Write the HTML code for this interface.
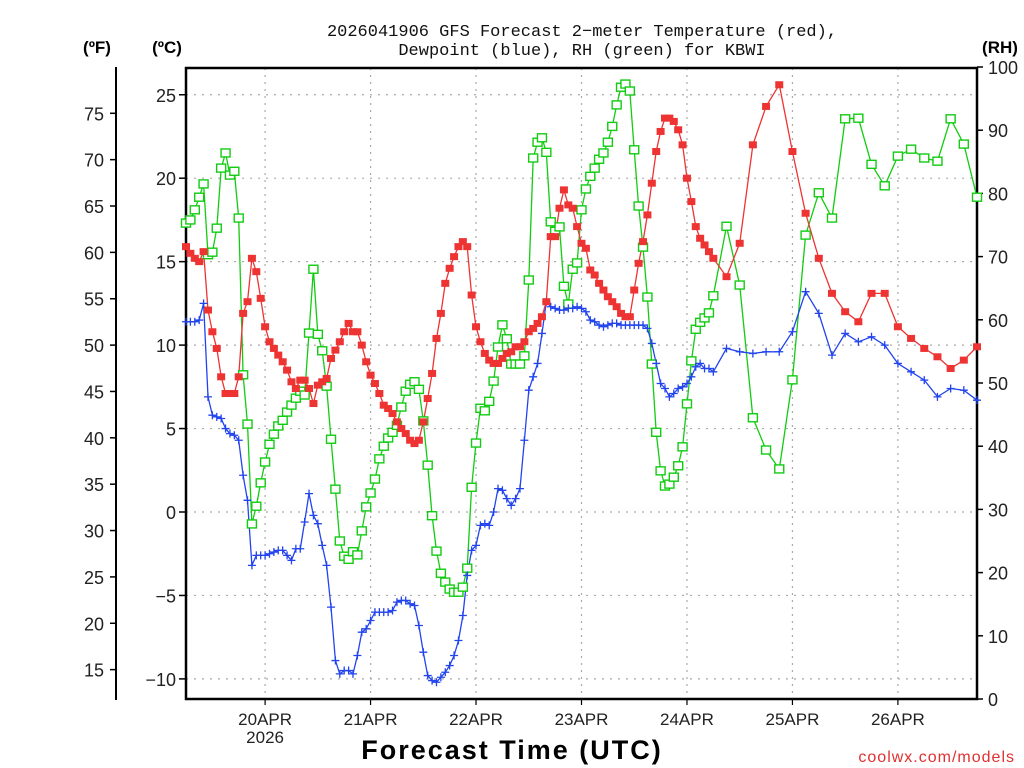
<!DOCTYPE html>
<html><head><meta charset="utf-8"><style>
body{margin:0;background:#fff;}
svg{display:block;font-family:"Liberation Sans",sans-serif;}
</style></head><body>
<svg id="chart" width="1024" height="768" xmlns="http://www.w3.org/2000/svg">
<text x="582" y="36" text-anchor="middle" font-size="17" fill="#111" font-family="Liberation Mono, monospace">2026041906 GFS Forecast 2−meter Temperature (red),</text>
<text x="582" y="55" text-anchor="middle" font-size="17" fill="#111" font-family="Liberation Mono, monospace">Dewpoint (blue), RH (green) for KBWI</text>
<text x="97" y="53" text-anchor="middle" font-size="17" font-weight="bold">(ºF)</text>
<text x="167" y="53" text-anchor="middle" font-size="17" font-weight="bold">(ºC)</text>
<text x="1000" y="53" text-anchor="middle" font-size="17" font-weight="bold">(RH)</text>
<text x="512" y="759" text-anchor="middle" font-size="27" font-weight="bold" letter-spacing="2">Forecast Time (UTC)</text>
<text x="1015" y="762" text-anchor="end" font-size="16" fill="#e03030" letter-spacing="1">coolwx.com/models</text>
<g id="grid"></g><g id="axes"></g><g id="series"></g>
</svg>
<script>
const tempC = [15.9,15.5,15.2,15.0,15.6,12.1,10.8,9.8,8.1,7.1,7.1,7.1,8.1,11.9,12.6,15.2,14.4,12.8,11.1,10.2,9.8,9.4,9.0,8.5,7.8,7.4,7.9,7.9,7.4,6.5,7.6,7.8,8.0,9.2,9.7,10.2,10.8,11.3,10.8,10.8,10.0,9.0,8.2,7.7,7.1,6.4,6.2,5.9,5.4,5.0,4.7,4.3,4.1,4.3,5.4,6.8,8.3,10.4,11.9,13.7,14.6,15.3,15.9,16.2,15.9,13.0,11.1,10.2,9.5,9.1,8.9,8.9,9.2,9.5,9.6,9.9,9.9,10.2,10.8,11.0,11.3,11.7,12.6,16.5,16.5,18.2,19.3,18.4,18.2,17.1,16.1,15.8,14.5,14.2,13.7,13.3,12.9,12.6,12.3,11.9,11.7,11.7,13.3,14.9,16.2,17.8,19.7,21.6,22.8,23.6,23.6,23.4,22.9,22.0,20.0,18.6,17.1,16.4,16.0,15.6,15.2,
14.1,16.1,22.0,24.3,25.6,21.6,17.9,15.2,13.1,12.0,11.4,13.1,13.1,11.1,10.4,9.8,9.3,8.6,9.1,9.9];
const dewpointC = [11.4,11.4,11.4,11.5,12.5,6.9,5.8,5.7,5.6,5.0,4.7,4.6,4.3,2.2,0.7,-3.2,-2.6,-2.6,-2.6,-2.5,-2.4,-2.3,-2.3,-2.6,-2.9,-2.2,-2.2,-0.6,1.1,-0.2,-0.7,-2.0,-3.2,-5.7,-8.9,-9.7,-9.5,-9.5,-9.7,-8.6,-7.2,-7.0,-6.5,-6.0,-6.0,-6.0,-6.0,-5.9,-5.4,-5.3,-5.3,-5.5,-5.6,-6.8,-8.4,-9.8,-10.1,-10.2,-9.9,-9.6,-9.2,-8.6,-7.7,-6.2,-3.8,-2.3,-2.0,-0.8,-0.7,-0.8,0.0,1.4,1.3,0.8,0.4,0.8,1.4,4.3,7.3,8.1,8.9,10.7,12.6,12.3,12.2,12.1,12.1,12.2,12.2,12.3,12.2,12.0,11.5,11.4,11.2,11.1,11.2,11.3,11.3,11.2,11.2,11.2,11.2,11.2,11.2,11.0,10.1,8.9,7.7,7.4,6.9,7.1,7.4,7.5,7.7,8.1,8.7,8.9,8.6,8.6,8.4,
9.8,9.6,9.5,9.6,9.6,10.8,13.2,11.9,9.4,10.7,10.2,10.5,10.0,8.9,8.4,7.9,6.9,7.4,7.3,6.7];
const rhPct = [75.3,75.8,77.4,79.4,81.5,70.3,70.7,74.5,84.0,86.4,82.9,83.5,76.1,51.3,43.5,27.7,30.5,34.2,37.5,40.3,41.9,43.2,44.1,45.4,46.5,47.6,48.7,48.1,57.9,68.0,57.7,55.1,49.5,41.1,33.2,25.0,22.6,22.1,23.3,22.8,26.6,30.4,32.6,34.8,38.0,40.0,41.3,42.2,43.3,46.2,48.7,49.8,50.2,49.0,44.0,37.0,29.0,23.4,19.9,18.5,17.4,16.9,16.9,17.7,20.7,33.5,40.5,46.0,45.6,47.1,50.3,55.7,59.2,57.0,53.0,53.0,53.0,54.3,66.3,85.6,88.1,88.8,86.5,75.5,74.0,74.7,65.3,62.5,68.0,69.0,77.4,80.7,82.7,84.0,85.4,86.4,88.1,90.6,94.0,96.8,97.3,96.2,86.9,78.0,71.5,63.6,53.0,42.2,36.1,33.7,34.0,35.1,36.9,39.9,46.7,53.5,58.5,59.6,60.3,61.1,63.8,
74.8,65.5,44.5,39.4,36.4,50.5,73.4,80.1,76.1,91.8,91.9,84.6,81.2,85.9,87.0,85.6,85.1,91.8,87.8,79.4];
const forecastHours = [];
for (let h = 0; h <= 120; h++) forecastHours.push(h);
for (let h = 123; h <= 180; h += 3) forecastHours.push(h);
const dayLabels = ["20APR","21APR","22APR","23APR","24APR","25APR","26APR"];
const dayHours = [18,42,66,90,114,138,162];
const celsiusTicks = [-10,-5,0,5,10,15,20,25];
const fahrenheitTicks = [15,20,25,30,35,40,45,50,55,60,65,70,75];
const rhTicks = [0,10,20,30,40,50,60,70,80,90,100];

const NS = "http://www.w3.org/2000/svg";
const L = 186, R = 977, T = 68, B = 699;
const xOf = h => L + h * (R - L) / 180;
const yC = c => 512 - c * 16.69;
const yF = f => yC((f - 32) * 5 / 9);
const yRH = r => B - r * (B - 67) / 100;
function mk(tag, attrs, parent) {
  const e = document.createElementNS(NS, tag);
  for (const k in attrs) e.setAttribute(k, attrs[k]);
  parent.appendChild(e);
  return e;
}
const grid = document.getElementById('grid');
const axes = document.getElementById('axes');
const series = document.getElementById('series');

celsiusTicks.forEach(c => {
  const y = yC(c);
  const g = mk('line', {x1: L, x2: R, y1: y, y2: y, stroke: '#aaa', 'stroke-width': 1.2, 'stroke-dasharray': '2,6'}, grid);
  
  
  const t = mk('line', {x1: L - 7, x2: L, y1: y, y2: y, stroke: '#000', 'stroke-width': 1.5}, axes);
  
  
  const lb = mk('text', {x: L - 10, y: y + 7, 'text-anchor': 'end', 'font-size': 18, fill: '#222'}, axes);
  lb.textContent = c < 0 ? '−' + Math.abs(c) : String(c);
  
  
});
dayHours.forEach((h, i) => {
  const x = xOf(h);
  const g = mk('line', {x1: x, x2: x, y1: T, y2: B, stroke: '#aaa', 'stroke-width': 1.2, 'stroke-dasharray': '2,5'}, grid);
  
  
  const t = mk('line', {x1: x, x2: x, y1: B, y2: B + 6, stroke: '#000', 'stroke-width': 1.2}, axes);
  
  
  const lb = mk('text', {x: x, y: 725, 'text-anchor': 'middle', 'font-size': 17, fill: '#222'}, axes);
  lb.textContent = dayLabels[i];
  
  
  if (i === 0) {
    const yr = mk('text', {x: x, y: 743, 'text-anchor': 'middle', 'font-size': 17, fill: '#222'}, axes);
    yr.textContent = '2026';
    
    
  }
});
fahrenheitTicks.forEach(f => {
  const y = yF(f);
  const t = mk('line', {x1: 110, x2: 116, y1: y, y2: y, stroke: '#000', 'stroke-width': 1.5}, axes);
  
  
  const lb = mk('text', {x: 104, y: y + 7, 'text-anchor': 'end', 'font-size': 18, fill: '#222'}, axes);
  lb.textContent = String(f);
  
  
});
rhTicks.forEach(r => {
  const y = yRH(r);
  const t = mk('line', {x1: R, x2: R + 6, y1: y, y2: y, stroke: '#000', 'stroke-width': 1.5}, axes);
  
  
  const lb = mk('text', {x: 988, y: y + 7, 'text-anchor': 'start', 'font-size': 18, fill: '#222'}, axes);
  lb.textContent = String(r);
  
  
});
const fAxis = mk('line', {x1: 116, x2: 116, y1: 67, y2: 700, stroke: '#000', 'stroke-width': 2}, axes);


const frame = mk('rect', {x: L, y: T, width: R - L, height: B - T, fill: 'none', stroke: '#000', 'stroke-width': 2.5}, axes);



function drawLine(vals, yfn, color, name) {
  const pts = vals.map((v, i) => xOf(forecastHours[i]).toFixed(1) + ',' + yfn(v).toFixed(1)).join(' ');
  const pl = mk('polyline', {points: pts, fill: 'none', stroke: color, 'stroke-width': 1.3}, series);
  
  
}
drawLine(rhPct, yRH, '#11cc11', 'rh-line');
drawLine(dewpointC, yC, '#2244ee', 'dewpoint-line');
drawLine(tempC, yC, '#ee3333', 'temperature-line');
rhPct.forEach((v, i) => {
  const m = mk('rect', {x: xOf(forecastHours[i]) - 4.5, y: yRH(v) - 4, width: 9, height: 8, fill: '#fff', stroke: '#11cc11', 'stroke-width': 1.4}, series);
  
  
});
dewpointC.forEach((v, i) => {
  const x = xOf(forecastHours[i]), y = yC(v);
  const m = mk('path', {d: `M${x-4},${y}H${x+4}M${x},${y-4}V${y+4}`, stroke: '#2244ee', 'stroke-width': 1.3, fill: 'none'}, series);
  
  
});
tempC.forEach((v, i) => {
  const m = mk('rect', {x: xOf(forecastHours[i]) - 4, y: yC(v) - 3.5, width: 8, height: 7, fill: '#ee3333'}, series);
  
  
});
</script>
</body></html>
